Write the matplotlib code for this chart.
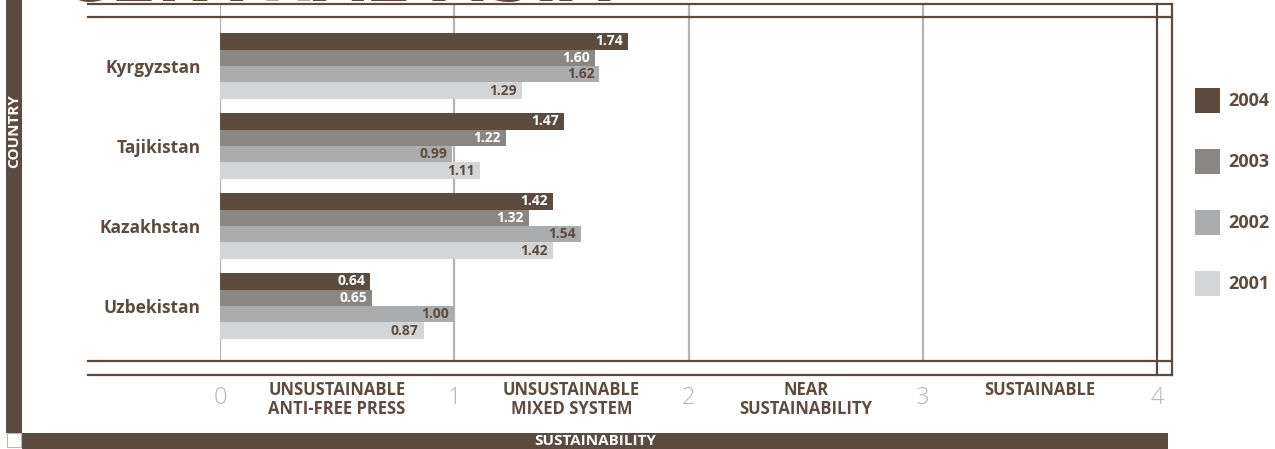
import matplotlib
matplotlib.use("Agg")
import matplotlib.pyplot as plt
from matplotlib.lines import Line2D
from matplotlib.patches import Rectangle

countries = ["Kyrgyzstan", "Tajikistan", "Kazakhstan", "Uzbekistan"]
years = ["2004", "2003", "2002", "2001"]
scores = {
    "2004": [1.74, 1.47, 1.42, 0.64],
    "2003": [1.60, 1.22, 1.32, 0.65],
    "2002": [1.62, 0.99, 1.54, 1.00],
    "2001": [1.29, 1.11, 1.42, 0.87],
}
tick_values = [0, 1, 2, 3, 4]
band_labels = ["UNSUSTAINABLE\nANTI-FREE PRESS", "UNSUSTAINABLE\nMIXED SYSTEM",
               "NEAR\nSUSTAINABILITY", "SUSTAINABLE"]

BROWN = "#5c4b3e"
colors = {"2004": "#5c4b3e", "2003": "#8a8684", "2002": "#abacae", "2001": "#d4d5d7"}
label_colors = {"2004": "white", "2003": "white", "2002": BROWN, "2001": BROWN}
GRID = "#b3b3b3"
FONT = "Open Sans"

W, H = 1275, 449
fig = plt.figure(figsize=(W / 100, H / 100), dpi=100)
plt.rcParams["font.family"] = [FONT, "DejaVu Sans"]


def fx(px):
    return px / W


def fy(py):
    return 1 - py / H


# plot area: x 0..4 spans pixels 220..1157, top 4 to bottom 361
ax = fig.add_axes([fx(220), fy(361), fx(1157) - fx(220), (361 - 4) / H])
ax.set_xlim(0, 4)
ax.set_ylim(3.6875, -0.775)
for s in ax.spines.values():
    s.set_visible(False)

for v in tick_values[:-1]:
    ax.axvline(v, color=GRID, lw=1.6, zorder=0)

bar_h = 0.206
for j, yr in enumerate(years):
    ys = [i + (j - 1.5) * bar_h for i in range(len(countries))]
    ax.barh(ys, scores[yr], height=bar_h, color=colors[yr], zorder=2)
    for y, v in zip(ys, scores[yr]):
        ax.annotate(f"{v:.2f}", xy=(v, y), xytext=(-5, 0), textcoords="offset pixels",
                    ha="right", va="center", fontsize=10, fontweight="bold",
                    color=label_colors[yr], zorder=3)

ax.set_yticks(range(len(countries)))
ax.set_yticklabels(countries, fontsize=12.5, fontweight="bold", color=BROWN)
ax.set_xticks(tick_values)
ax.set_xticklabels([str(t) for t in tick_values], fontsize=17, fontweight="light",
                   color="#b5b5b5")
ax.tick_params(axis="y", length=0, pad=14)
ax.tick_params(axis="x", length=0, pad=18)

for k, txt in enumerate(band_labels):
    ax.annotate(txt, xy=(k + 0.5, 0), xycoords=("data", "axes fraction"),
                xytext=(0, -20), textcoords="offset pixels", ha="center", va="top",
                fontsize=12, fontweight="bold", color=BROWN, linespacing=1.1)

# frame lines
lw = 1.6
for py in (4, 17, 361, 375):
    fig.add_artist(Line2D([fx(88), fx(1172)], [fy(py), fy(py)], color=BROWN, lw=lw))
for px in (1157, 1172):
    fig.add_artist(Line2D([fx(px), fx(px)], [fy(4), fy(375)], color=BROWN, lw=lw))

# heading, mostly off the top edge
fig.text(fx(65), fy(0.5), "CENTRAL ASIA", fontsize=49, fontweight="bold", style="italic",
         color=BROWN, ha="left", va="baseline", family="DejaVu Sans")

# side and bottom bands
fig.add_artist(Rectangle((fx(6), fy(433)), fx(16), 433 / H, color=BROWN, lw=0))
fig.add_artist(Rectangle((fx(22), 0), fx(1168 - 22), 16 / H, color=BROWN, lw=0))
fig.add_artist(Rectangle((fx(6.5), fy(447)), fx(14), 14 / H, facecolor="white",
                         edgecolor="#bdb6b0", lw=0.8))
fig.text(fx(14), fy(131), "COUNTRY", rotation=90, ha="center", va="center",
         fontsize=11, fontweight="bold", color="white")
fig.text(fx(595), fy(441), "SUSTAINABILITY", ha="center", va="center",
         fontsize=11, fontweight="bold", color="white")

# legend: swatch column at x 1195, one row every 61 px
for j, yr in enumerate(years):
    top = 88 + 61 * j
    fig.add_artist(Rectangle((fx(1195), fy(top + 25)), fx(25), 25 / H,
                             color=colors[yr], lw=0))
    fig.text(fx(1228), fy(top + 13), yr, ha="left", va="center", fontsize=13,
             fontweight="bold", color=BROWN)

fig.savefig("out.png", dpi=100)
